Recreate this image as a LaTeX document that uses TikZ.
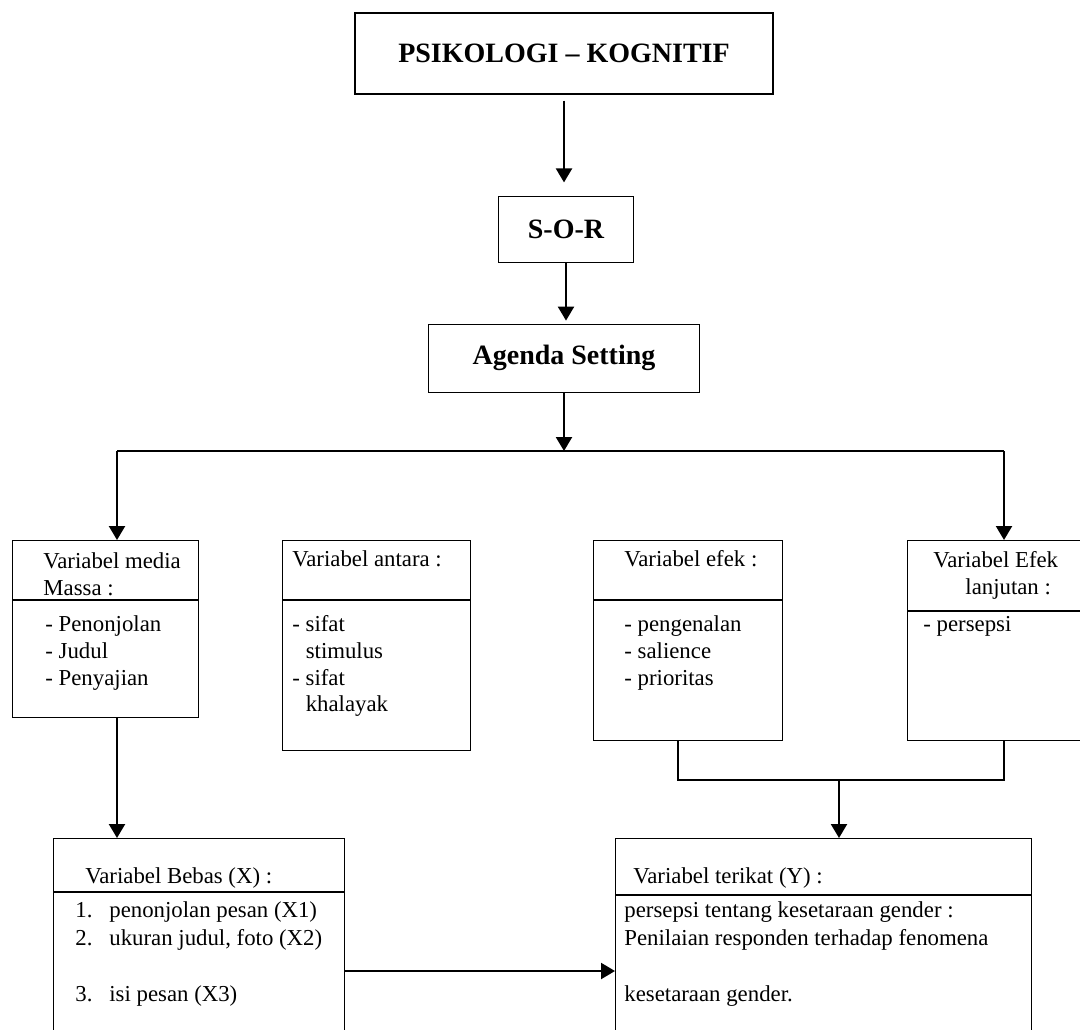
\documentclass[tikz,border=0pt]{standalone}
\usepackage{fontspec}
\setmainfont{Liberation Serif}
\usepackage{tikz}
\usetikzlibrary{arrows.meta, positioning, calc}

\begin{document}
\begin{tikzpicture}[x=0.5pt, y=-0.5pt,
  box/.style={draw, line width=0.7pt, rectangle, inner sep=0pt, anchor=north west},
  headbox/.style={draw, line width=0.7pt, rectangle, inner sep=0pt,
    font=\fontsize{14}{16}\selectfont\bfseries},
  txt/.style={font=\fontsize{11.4}{13.35}\selectfont, inner sep=0pt,
    anchor=base west, align=left},
  lowtxt/.style={txt, font=\fontsize{11.4}{14}\selectfont},
  divider/.style={line width=0.7pt},
  wire/.style={line width=0.8pt},
  link/.style={line width=1.1pt, -{Triangle[width=8pt,length=7pt]}}]

  \useasboundingbox (0,0) rectangle (1080,1029);
  \clip (0,0) rectangle (1080,1029);

  % --- Theory chain (top) ---
  \node[headbox, minimum width=209pt, minimum height=40.5pt] (psiko) at (564,53.5)
    {PSIKOLOGI -- KOGNITIF};
  \node[headbox, minimum width=67.5pt, minimum height=32.8pt] (sor) at (566,229.5)
    {S-O-R};
  \node[headbox, minimum width=135.5pt, minimum height=34pt] (agenda) at (564,358.3)
    {Agenda Setting};

  % --- Variable boxes (middle row) ---
  \node[box, minimum width=93pt, minimum height=88.5pt] (media) at (12,540) {};
  \node[box, minimum width=94pt, minimum height=105pt] (antara) at (282,540) {};
  \node[box, minimum width=94.5pt, minimum height=100pt] (efek) at (593,540) {};
  \node[box, minimum width=97pt, minimum height=100pt] (lanjut) at (907,540) {};

  % dividers under the headings
  \draw[divider] (media.west |- 0,600) -- (media.east |- 0,600);
  \draw[divider] (antara.west |- 0,600) -- (antara.east |- 0,600);
  \draw[divider] (efek.west |- 0,600) -- (efek.east |- 0,600);
  \draw[divider] (lanjut.west |- 0,611) -- (lanjut.east |- 0,611);

  % multi-line texts sit on the baseline of their last line
  \node[txt] (mediaHead) at (43,595) {Variabel media\\Massa :};
  \node[txt] (mediaList) at (45,685) {- Penonjolan\\- Judul\\- Penyajian};

  \node[txt] (antaraHead) at (292,566.7) {Variabel antara :};
  \node[txt] (antaraList) at (292,711.8)
    {- sifat\\\hspace*{6.7pt}stimulus\\- sifat\\\hspace*{6.7pt}khalayak};

  \node[txt] (efekHead) at (624,566.7) {Variabel efek :};
  \node[txt] (efekList) at (624,685) {- pengenalan\\- salience\\- prioritas};

  \node[txt] (lanjutHead) at (933,594) {Variabel Efek\\\hspace*{16pt}lanjutan :};
  \node[txt] (lanjutList) at (923,631.7) {- persepsi};

  % --- Research variables (bottom row) ---
  \node[box, minimum width=145.5pt, minimum height=111pt] (bebas) at (53,838) {};
  \node[box, minimum width=208pt, minimum height=111pt] (terikat) at (615,838) {};

  \draw[divider] (bebas.west |- 0,892) -- (bebas.east |- 0,892);
  \draw[divider] (terikat.west |- 0,895) -- (terikat.east |- 0,895);

  \node[lowtxt] (bebasHead) at (85,883) {Variabel Bebas (X) :};
  \node[lowtxt] (bebasList) at (75,1001)
    {\makebox[17pt][l]{1.}penonjolan pesan (X1)\\
     \makebox[17pt][l]{2.}ukuran judul, foto (X2)\\[14pt]
     \makebox[17pt][l]{3.}isi pesan (X3)};

  \node[lowtxt] (terikatHead) at (633,883) {Variabel terikat (Y) :};
  \node[lowtxt] (terikatList) at (624,1001)
    {persepsi tentang kesetaraan gender :\\
     Penilaian responden terhadap fenomena\\[14pt]
     kesetaraan gender.};

  % --- Connectors ---
  \coordinate (bus) at (566,451);
  \coordinate (busL) at (117,451);
  \coordinate (busR) at (1004,451);
  \coordinate (joinL) at (678,780);
  \coordinate (joinR) at (1004,780);
  \coordinate (join) at (839,780);

  \draw[link, shorten <=3pt, shorten >=6.8pt] (psiko.south) -- (psiko.south |- sor.north);
  \draw[link, shorten >=1.5pt] (sor.south) -- (sor.south |- agenda.north);
  \draw[link] (agenda.south) -- (agenda.south |- bus);
  \draw[wire] (busL) -- (busR);
  \draw[link] (busL) -- (busL |- media.north);
  \draw[link] (busR) -- (busR |- lanjut.north);

  \draw[link] (busL |- media.south) -- (busL |- bebas.north);
  \draw[wire] (joinL |- efek.south) -- (joinL) -- (joinR) -- (joinR |- lanjut.south);
  \draw[link] (join) -- (join |- terikat.north);
  \draw[link] (bebas.east |- 0,971) -- (terikat.west |- 0,971);

\end{tikzpicture}
\end{document}
